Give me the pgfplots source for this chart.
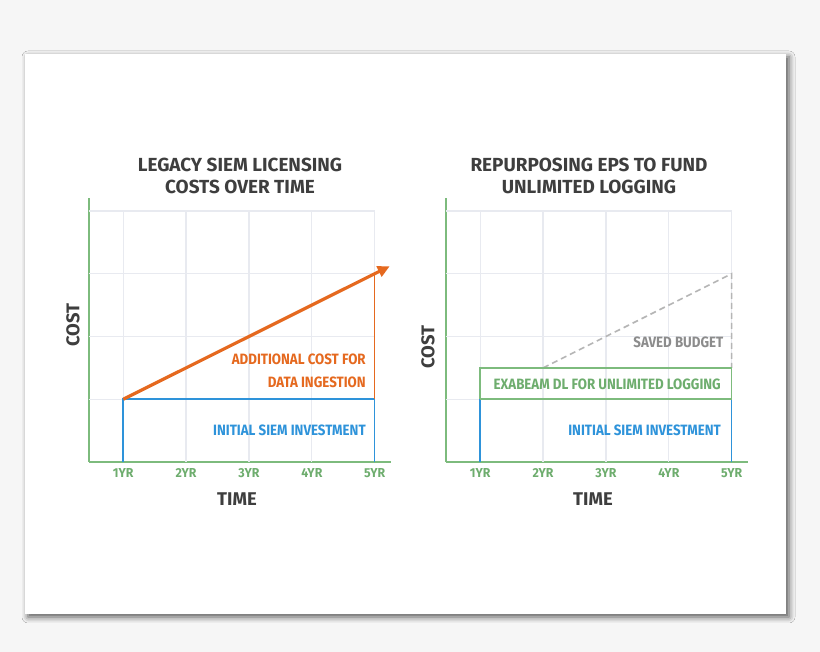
\documentclass[border=0pt]{standalone}
\usepackage{fontspec}
\setmainfont{Fira Sans}
\newfontfamily\tfont{Fira Sans}
\newfontfamily\cfont[FakeStretch=0.95]{Fira Sans}
\newfontfamily\lfont[FakeStretch=0.89]{Fira Sans}
\usepackage{pgfplots}
\pgfplotsset{compat=1.18}
\usetikzlibrary{arrows.meta,shadows.blur}
\definecolor{bgcol}{HTML}{F6F6F6}
\definecolor{axgreen}{HTML}{7DBB7D}
\definecolor{tickgreen}{HTML}{6EAD6E}
\definecolor{lblue}{HTML}{2E93DA}
\definecolor{lorange}{HTML}{E5691F}
\definecolor{gridc}{HTML}{E8EAF0}
\definecolor{dgray}{HTML}{3E3E3E}
\definecolor{dashgray}{HTML}{B5B5B5}
\definecolor{savegray}{HTML}{8C8C8C}
\pgfplotsset{myaxis/.style={
  scale only axis, width=302.3bp, height=264.2bp,
  xmin=0.45, xmax=5.26, ymin=0, ymax=4.21,
  axis x line=bottom, axis y line=left,
  axis line style={-, draw=axgreen, line width=1.6bp},
  xtick={1,2,3,4,5}, xticklabels={1YR,2YR,3YR,4YR,5YR},
  ytick=\empty, major tick length=0pt,
  xticklabel style={text=tickgreen, font=\cfont\bfseries\fontsize{13}{14}\selectfont, anchor=center, yshift=-11bp},
  clip=false,
}}
\newcommand{\gridlines}{%
  \draw[gridc, line width=1.3bp] (axis cs:1,0) -- (axis cs:1,4);
  \draw[gridc, line width=1.3bp] (axis cs:2,0) -- (axis cs:2,4);
  \draw[gridc, line width=1.3bp] (axis cs:3,0) -- (axis cs:3,4);
  \draw[gridc, line width=1.3bp] (axis cs:4,0) -- (axis cs:4,4);
  \draw[gridc, line width=1.3bp] (axis cs:5,0) -- (axis cs:5,4);
  \draw[gridc, line width=1.3bp] (axis cs:0.45,1) -- (axis cs:5,1);
  \draw[gridc, line width=1.3bp] (axis cs:0.45,2) -- (axis cs:5,2);
  \draw[gridc, line width=1.3bp] (axis cs:0.45,3) -- (axis cs:5,3);
  \draw[gridc, line width=1.3bp] (axis cs:0.45,4) -- (axis cs:5,4);
}
\begin{document}
\begin{tikzpicture}[x=1bp,y=1bp]
\fill[bgcol] (0,0) rectangle (820,652);
\useasboundingbox (0,0) rectangle (820,652);
\fill[white, blur shadow={shadow xshift=3bp, shadow yshift=-3bp, shadow blur radius=6bp, shadow opacity=65}] (25,38) rectangle (786,598);

% ---------- left chart ----------
\begin{axis}[myaxis, at={(88.7bp,190bp)}, anchor=south west]
\gridlines
\addplot[lblue, line width=1.6bp] coordinates {(1,0) (1,1) (5,1) (5,0)};
\addplot[lorange, line width=1.6bp] coordinates {(5,1) (5,3)};
\addplot[lorange, line width=3.2bp, -{Triangle[length=12bp,width=11bp]}] coordinates {(1,1) (5.24,3.12)};
\node[anchor=east, align=right, text=lorange, font=\lfont\bfseries\fontsize{15}{22.7}\selectfont, inner sep=0pt] at (axis cs:4.86,1.45) {ADDITIONAL COST FOR\\DATA INGESTION};
\node[anchor=east, text=lblue, font=\lfont\bfseries\fontsize{15}{17}\selectfont, inner sep=0pt] at (axis cs:4.86,0.5) {INITIAL SIEM INVESTMENT};
\end{axis}

% ---------- right chart ----------
\begin{axis}[myaxis, at={(445.7bp,190bp)}, anchor=south west]
\gridlines
\addplot[dashgray, line width=1.6bp, dash pattern=on 6bp off 4bp] coordinates {(2,1.5) (5,3) (5,1.5)};
\addplot[lblue, line width=1.6bp] coordinates {(1,0) (1,1) (5,1) (5,0)};
\addplot[axgreen, line width=1.6bp] coordinates {(1,1) (1,1.5) (5,1.5) (5,1) (1,1)};
\node[anchor=east, text=savegray, font=\lfont\bfseries\fontsize{15}{17}\selectfont, inner sep=0pt] at (axis cs:4.87,1.9) {SAVED BUDGET};
\node[anchor=east, text=tickgreen, font=\lfont\bfseries\fontsize{15}{17}\selectfont, inner sep=0pt] at (axis cs:4.83,1.23) {EXABEAM DL FOR UNLIMITED LOGGING};
\node[anchor=east, text=lblue, font=\lfont\bfseries\fontsize{15}{17}\selectfont, inner sep=0pt] at (axis cs:4.83,0.5) {INITIAL SIEM INVESTMENT};
\end{axis}

% ---------- titles and axis names ----------
\node[align=center, text=dgray, font=\tfont\bfseries\fontsize{19}{22}\selectfont] at (240,476) {LEGACY SIEM LICENSING\\COSTS OVER TIME};
\node[align=center, text=dgray, font=\tfont\bfseries\fontsize{19}{22}\selectfont] at (589,476) {REPURPOSING EPS TO FUND\\UNLIMITED LOGGING};
\node[text=dgray, font=\tfont\bfseries\fontsize{18.5}{20}\selectfont] at (237,153) {TIME};
\node[text=dgray, font=\tfont\bfseries\fontsize{18.5}{20}\selectfont] at (593,153) {TIME};
\node[text=dgray, rotate=90, font=\tfont\bfseries\fontsize{18.5}{20}\selectfont] at (73,327) {COST};
\node[text=dgray, rotate=90, font=\tfont\bfseries\fontsize{18.5}{20}\selectfont] at (428,305) {COST};
\end{tikzpicture}
\end{document}
